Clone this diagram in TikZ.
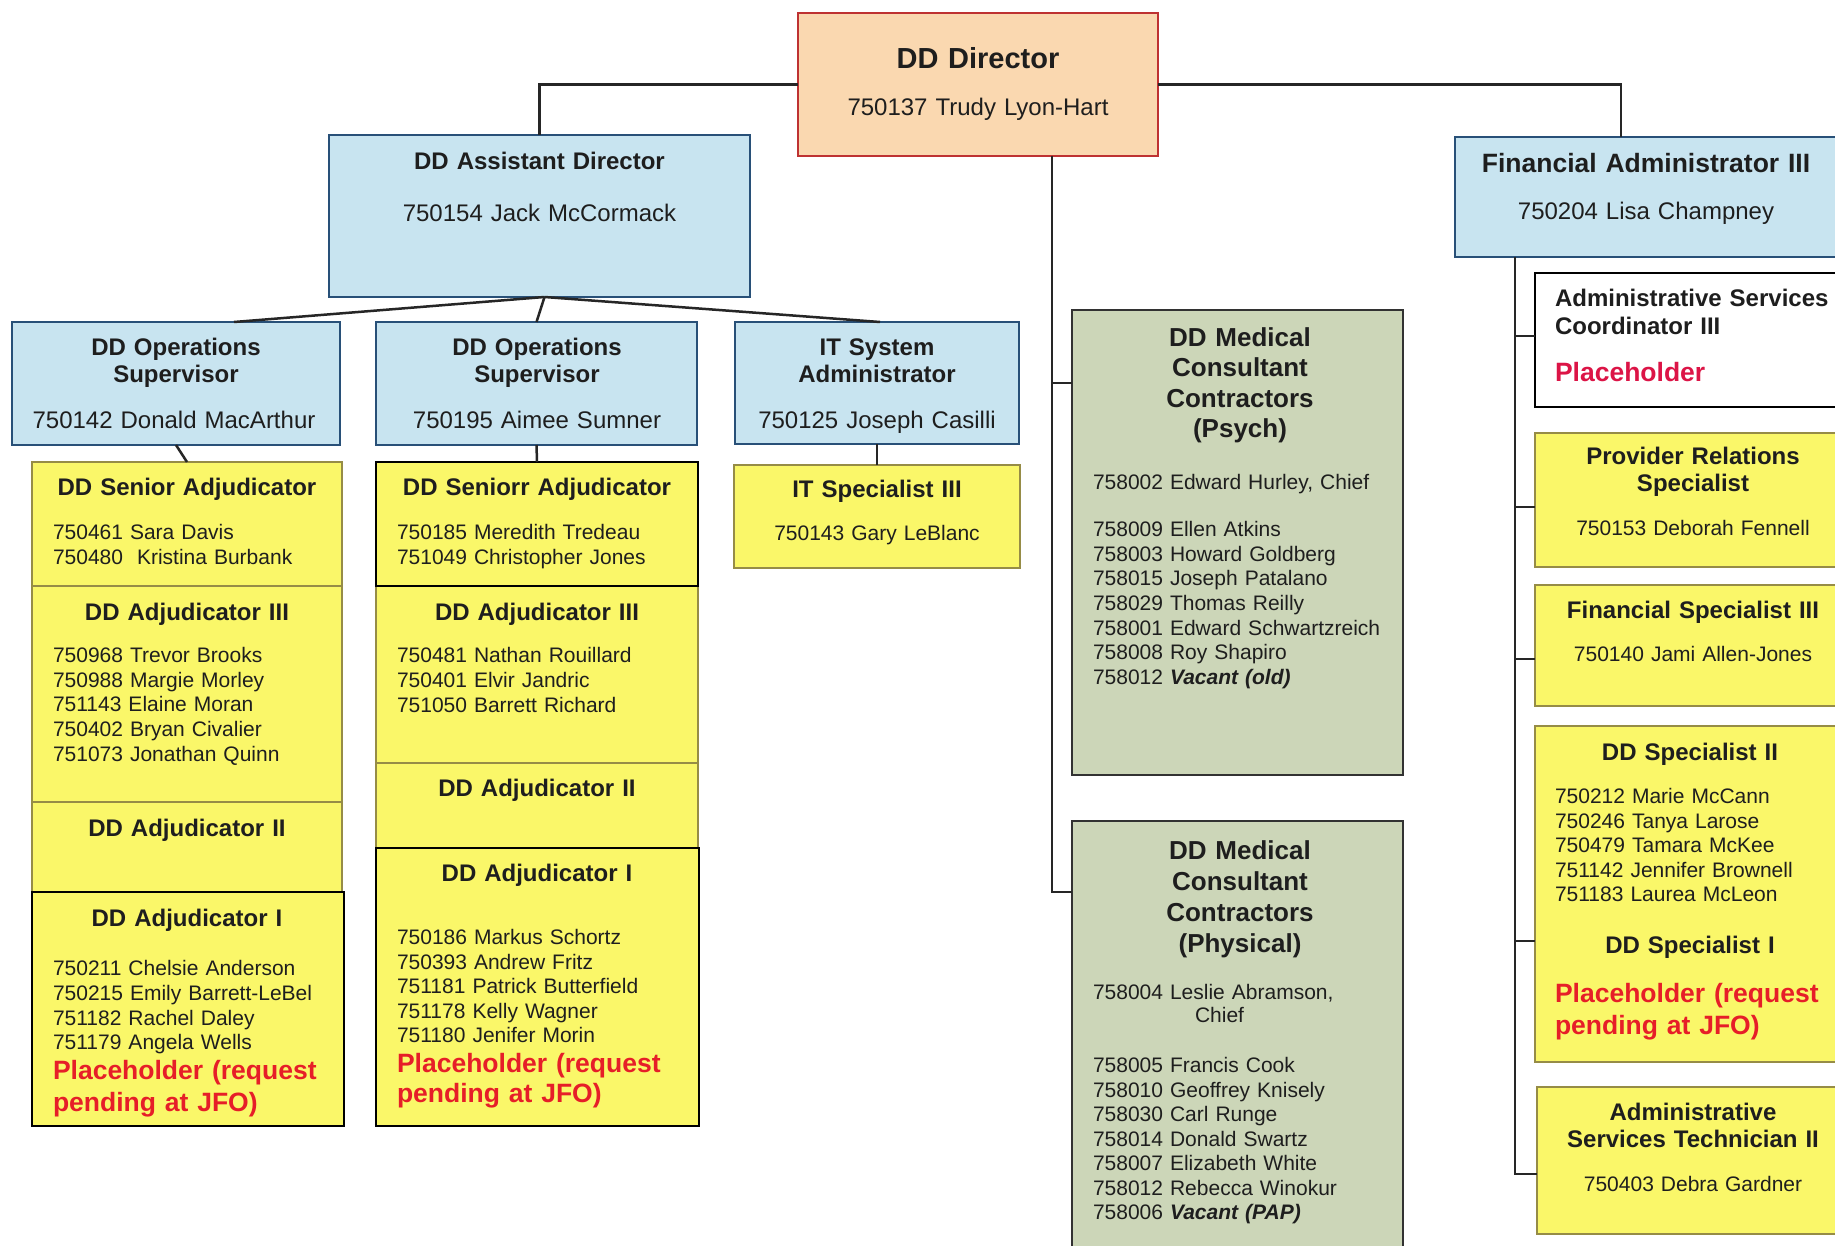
\documentclass[tikz,border=0pt]{standalone}
\usepackage{fontspec}
\setmainfont{Liberation Sans}
\usetikzlibrary{calc}
\definecolor{dirfill}{RGB}{250,216,176}
\definecolor{dirline}{RGB}{190,50,50}
\definecolor{bluefill}{RGB}{200,228,240}
\definecolor{blueline}{RGB}{40,80,120}
\definecolor{yelfill}{RGB}{250,247,105}
\definecolor{yelline}{RGB}{150,140,70}
\definecolor{grnfill}{RGB}{204,214,184}
\definecolor{grnline}{RGB}{50,50,50}
\definecolor{redtxt}{RGB}{230,30,40}
\definecolor{crimsontxt}{RGB}{220,20,70}
\definecolor{txt}{RGB}{30,30,30}
\begin{document}
\begin{tikzpicture}[x=1pt,y=-1pt,
  box/.style={draw, line width=2pt, anchor=north west, inner sep=0pt, outer sep=0pt},
  dirbox/.style={box, fill=dirfill, draw=dirline},
  bluebox/.style={box, fill=bluefill, draw=blueline},
  yelbox/.style={box, fill=yelfill, draw=yelline},
  yelblk/.style={box, fill=yelfill, draw=black},
  grnbox/.style={box, fill=grnfill, draw=grnline},
  whtbox/.style={box, fill=white, draw=black},
  conn/.style={line width=2.5pt, draw=black!85},
  tx/.style={inner sep=0pt, outer sep=0pt, text=txt},
  ctitle/.style={tx, anchor=base, align=center, text width=340pt, font=\bfseries\fontsize{24}{27}\selectfont},
  cname/.style={tx, anchor=base, align=center, text width=340pt, font=\fontsize{24}{28}\selectfont},
  cname21/.style={tx, anchor=base, align=center, text width=340pt, font=\fontsize{21}{25}\selectfont},
  listx/.style={tx, anchor=base west, align=left, text width=340pt, font=\fontsize{21}{24.6}\selectfont},
  redx/.style={tx, anchor=base west, align=left, text width=320pt, text=redtxt, font=\bfseries\fontsize{26.5}{32}\selectfont},
  medttl/.style={tx, anchor=base, align=center, text width=320pt, font=\bfseries\fontsize{26}{30.5}\selectfont}
]
\useasboundingbox (0,0) rectangle (1835,1246);
\clip (0,0) rectangle (1835,1246);
\fill[white] (0,0) rectangle (1835,1246);

% ---------- boxes ----------
\node[dirbox, minimum width=360pt, minimum height=143pt] (dir) at (798,13) {};
\node[bluebox, minimum width=421pt, minimum height=162pt] (asst) at (329,135) {};
\node[bluebox, minimum width=420pt, minimum height=120pt] (fin) at (1455,137) {};
\node[bluebox, minimum width=328pt, minimum height=123pt] (ops1) at (12,322) {};
\node[bluebox, minimum width=321pt, minimum height=123pt] (ops2) at (376,322) {};
\node[bluebox, minimum width=284pt, minimum height=122pt] (itsys) at (735,322) {};
\node[yelbox, minimum width=310pt, minimum height=124pt] (sen1) at (32,462) {};
\node[yelbox, minimum width=310pt, minimum height=216pt] (adj3a) at (32,586) {};
\node[yelbox, minimum width=310pt, minimum height=90pt] (adj2a) at (32,802) {};
\node[yelblk, minimum width=312pt, minimum height=234pt] (adj1a) at (32,892) {};
\node[yelbox, minimum width=322pt, minimum height=177pt] (adj3b) at (376,586) {};
\node[yelbox, minimum width=322pt, minimum height=85pt] (adj2b) at (376,763) {};
\node[yelblk, minimum width=322pt, minimum height=124pt] (sen2) at (376,462) {};
\node[yelblk, minimum width=323pt, minimum height=278pt] (adj1b) at (376,848) {};
\node[yelbox, minimum width=286pt, minimum height=103pt] (itspec) at (734,465) {};
\node[grnbox, minimum width=331pt, minimum height=465pt] (psych) at (1072,310) {};
\node[grnbox, minimum width=331pt, minimum height=460pt] (phys) at (1072,821) {};
\node[whtbox, minimum width=340pt, minimum height=134pt] (asc) at (1535,273) {};
\node[yelbox, minimum width=340pt, minimum height=134pt] (prs) at (1535,433) {};
\node[yelbox, minimum width=340pt, minimum height=121pt] (fs3) at (1535,585) {};
\node[yelbox, minimum width=340pt, minimum height=336pt] (dsp) at (1535,726) {};
\node[yelbox, minimum width=340pt, minimum height=147pt] (ast) at (1537,1087) {};

% ---------- connectors ----------
\draw[conn] (dir.west) -| (asst.north);
\draw[conn] (dir.east) -| ([xshift=166pt]fin.north west);
\coordinate (trk) at ([xshift=74pt]dir.south);
\coordinate (psyc) at ([yshift=-73pt]psych.north west);
\coordinate (physc) at ([yshift=-71pt]phys.north west);
\draw[conn] (trk) |- (physc);
\draw[conn] (trk |- psyc) -- (psyc);
\coordinate (asb) at ([xshift=5pt]asst.south);
\draw[conn] (asb) -- ([xshift=58pt]ops1.north);
\draw[conn] (asb) -- (ops2.north);
\draw[conn] (asb) -- ([xshift=3pt]itsys.north);
\draw[conn] (ops1.south) -- (sen1.north);
\draw[conn] (ops2.south) -- (sen2.north);
\draw[conn] (itsys.south) -- (itspec.north);
\coordinate (rtop) at ([xshift=60pt]fin.south west);
\coordinate (ascc) at ([yshift=-63pt]asc.north west);
\coordinate (prsc) at ([yshift=-74pt]prs.north west);
\coordinate (fs3c) at ([yshift=-74pt]fs3.north west);
\coordinate (dspc) at ([yshift=-215pt]dsp.north west);
\coordinate (astc) at ([yshift=-87pt]ast.north west);
\draw[conn] (rtop) |- (astc);
\draw[conn] (rtop |- ascc) -- (ascc);
\draw[conn] (rtop |- prsc) -- (prsc);
\draw[conn] (rtop |- fs3c) -- (fs3c);
\draw[conn] (rtop |- dspc) -- (dspc);

% ---------- texts: top ----------
\node[ctitle, font=\bfseries\fontsize{29}{33}\selectfont] (tdir) at (978,68.4) {DD Director};
\node[cname] (ndir) at (978,115.6) {750137 Trudy Lyon-Hart};
\node[ctitle] (tasst) at (539.5,169.6) {DD Assistant Director};
\node[cname] (nasst) at (539.5,221.6) {750154 Jack McCormack};
\node[ctitle, font=\bfseries\fontsize{26.5}{30}\selectfont] (tfin) at (1646,172.5) {Financial Administrator III};
\node[cname] (nfin) at (1646,219.6) {750204 Lisa Champney};

\node[ctitle] (tops1) at (176,355.6) {DD Operations\\Supervisor};
\node[cname] (nops1) at (174,428.6) {750142 Donald MacArthur};
\node[ctitle] (tops2) at (537,355.6) {DD Operations\\Supervisor};
\node[cname] (nops2) at (537,428.6) {750195 Aimee Sumner};
\node[ctitle] (tits) at (877,355.6) {IT System\\Administrator};
\node[cname] (nits) at (877,428.6) {750125 Joseph Casilli};

% ---------- left column ----------
\node[ctitle] (tsen1) at (187,495.6) {DD Senior Adjudicator};
\node[listx, font=\fontsize{21}{25}\selectfont] (lsen1) at (53,539.6) {750461 Sara Davis\\750480~ Kristina Burbank};
\node[ctitle] (tadj3a) at (187,620.6) {DD Adjudicator III};
\node[listx] (ladj3a) at (53,662.6) {750968 Trevor Brooks\\750988 Margie Morley\\751143 Elaine Moran\\750402 Bryan Civalier\\751073 Jonathan Quinn};
\node[ctitle] (tadj2a) at (187,836.6) {DD Adjudicator II};
\node[ctitle] (tadj1a) at (187,926.6) {DD Adjudicator I};
\node[listx, font=\fontsize{21}{24.7}\selectfont] (ladj1a) at (53,975.6) {750211 Chelsie Anderson\\750215 Emily Barrett-LeBel\\751182 Rachel Daley\\751179 Angela Wells};
\node[redx] (radj1a) at (53,1079.5) {Placeholder (request\\pending at JFO)};

% ---------- middle column ----------
\node[ctitle] (tsen2) at (537,495.6) {DD Seniorr Adjudicator};
\node[listx, font=\fontsize{21}{25}\selectfont] (lsen2) at (397,539.6) {750185 Meredith Tredeau\\751049 Christopher Jones};
\node[ctitle] (tadj3b) at (537,620.6) {DD Adjudicator III};
\node[listx, font=\fontsize{21}{25}\selectfont] (ladj3b) at (397,662.6) {750481 Nathan Rouillard\\750401 Elvir Jandric\\751050 Barrett Richard};
\node[ctitle] (tadj2b) at (537,796.6) {DD Adjudicator II};
\node[ctitle] (tadj1b) at (537,881.6) {DD Adjudicator I};
\node[listx, font=\fontsize{21}{24.5}\selectfont] (ladj1b) at (397,944.6) {750186 Markus Schortz\\750393 Andrew Fritz\\751181 Patrick Butterfield\\751178 Kelly Wagner\\751180 Jenifer Morin};
\node[redx, font=\bfseries\fontsize{26.5}{30}\selectfont] (radj1b) at (397,1072.5) {Placeholder (request\\pending at JFO)};

% ---------- IT ----------
\node[ctitle] (titspec) at (877,497.6) {IT Specialist III};
\node[cname21] (nitspec) at (877,540.6) {750143 Gary LeBlanc};

% ---------- medical ----------
\node[medttl] (tpsych) at (1240,346.4) {DD Medical\\Consultant\\Contractors\\(Psych)};
\node[listx] (lpsych0) at (1093,489.6) {758002 Edward Hurley, Chief};
\node[listx, font=\fontsize{21}{24.67}\selectfont] (lpsych) at (1093,536.6) {758009 Ellen Atkins\\758003 Howard Goldberg\\758015 Joseph Patalano\\758029 Thomas Reilly\\758001 Edward Schwartzreich\\758008 Roy Shapiro\\758012 \textbf{\textit{Vacant (old)}}};
\node[medttl, font=\bfseries\fontsize{26}{31}\selectfont] (tphys) at (1240,859.4) {DD Medical\\Consultant\\Contractors\\(Physical)};
\node[listx, font=\fontsize{21}{23}\selectfont] (lphys0) at (1093,999.6) {758004 Leslie Abramson,\\\hspace*{102pt}Chief};
\node[listx, font=\fontsize{21}{24.5}\selectfont] (lphys) at (1093,1072.6) {758005 Francis Cook\\758010 Geoffrey Knisely\\758030 Carl Runge\\758014 Donald Swartz\\758007 Elizabeth White\\758012 Rebecca Winokur\\758006 \textbf{\textit{Vacant (PAP)}}};

% ---------- right column ----------
\node[tx, anchor=base west, align=left, text width=300pt, font=\bfseries\fontsize{24}{28}\selectfont] (tasc) at (1555,306.6) {Administrative Services\\Coordinator III};
\node[tx, anchor=base west, text=crimsontxt, font=\bfseries\fontsize{26.5}{30}\selectfont] (rasc) at (1555,381.5) {Placeholder};
\node[ctitle] (tprs) at (1693,464.6) {Provider Relations\\Specialist};
\node[cname21] (nprs) at (1693,535.6) {750153 Deborah Fennell};
\node[ctitle] (tfs3) at (1693,618.6) {Financial Specialist III};
\node[cname21] (nfs3) at (1693,661.6) {750140 Jami Allen-Jones};
\node[ctitle] (tdsp2) at (1690,760.6) {DD Specialist II};
\node[listx, font=\fontsize{21}{24.5}\selectfont] (ldsp) at (1555,803.6) {750212 Marie McCann\\750246 Tanya Larose\\750479 Tamara McKee\\751142 Jennifer Brownell\\751183 Laurea McLeon};
\node[ctitle] (tdsp1) at (1690,953.6) {DD Specialist I};
\node[redx] (rdsp) at (1555,1002.5) {Placeholder (request\\pending at JFO)};
\node[ctitle] (tast) at (1693,1120.6) {Administrative\\Services Technician II};
\node[cname21] (nast) at (1693,1191.6) {750403 Debra Gardner};
\end{tikzpicture}
\end{document}
